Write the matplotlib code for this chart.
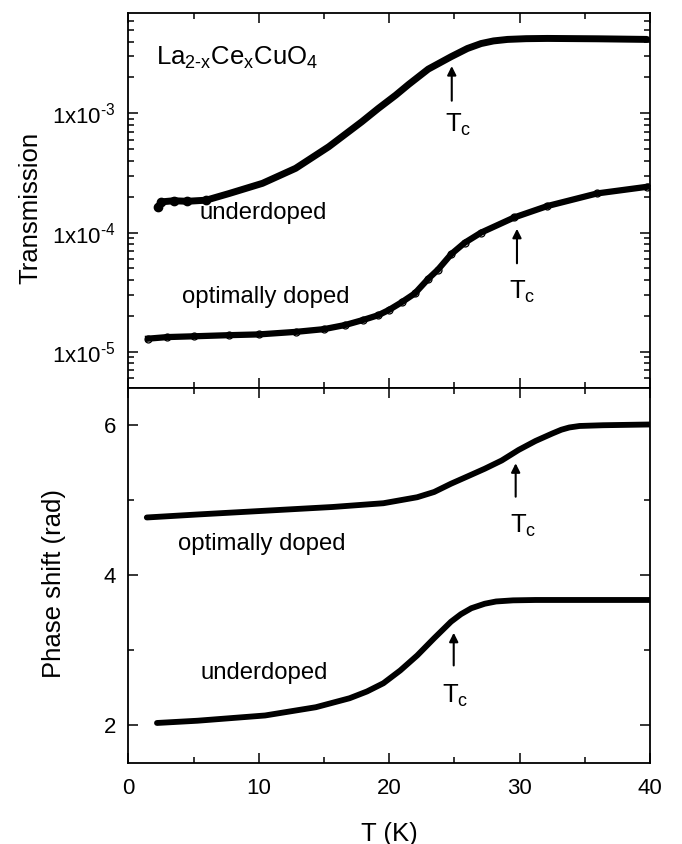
import numpy as np
import matplotlib.pyplot as plt
from matplotlib.ticker import FixedLocator, FixedFormatter, MultipleLocator, LogLocator, NullFormatter

plt.rcParams['font.family'] = ['Liberation Sans', 'DejaVu Sans']
plt.rcParams['mathtext.fontset'] = 'custom'
plt.rcParams['mathtext.rm'] = 'Liberation Sans'
plt.rcParams['mathtext.it'] = 'Liberation Sans:italic'
plt.rcParams['mathtext.default'] = 'regular'

# Transmision - muestra subdopada
T_tr_under = [2.29, 2.54, 3.5, 4.5, 5.97, 7.75, 10.29, 12.83, 15.37, 17.9, 19.17,
              20.5, 21.5, 23.0, 24.76, 26.0, 27.05, 28.0, 29.08, 30.5, 32.13, 36.0, 39.75]
tr_under = [1.64e-4, 1.81e-4, 1.85e-4, 1.83e-4, 1.87e-4, 2.13e-4, 2.59e-4, 3.46e-4,
            5.25e-4, 8.5e-4, 1.1e-3, 1.42e-3, 1.75e-3, 2.35e-3, 2.99e-3, 3.5e-3,
            3.85e-3, 4.05e-3, 4.17e-3, 4.23e-3, 4.25e-3, 4.22e-3, 4.17e-3]

# Transmision - dopaje optimo
T_tr_opt = [1.52, 3.0, 5.0, 7.75, 10.0, 12.83, 15.0, 16.64, 18.0, 19.17, 20.0, 20.95,
            21.97, 23.0, 23.75, 24.76, 25.78, 27.05, 29.59, 32.13, 35.94, 39.75]
tr_opt = [1.29e-5, 1.33e-5, 1.35e-5, 1.38e-5, 1.40e-5, 1.47e-5, 1.55e-5, 1.68e-5,
          1.85e-5, 2.03e-5, 2.25e-5, 2.6e-5, 3.09e-5, 4.1e-5, 4.9e-5, 6.6e-5,
          8.2e-5, 1.0e-4, 1.34e-4, 1.67e-4, 2.13e-4, 2.42e-4]

# Corrimiento de fase
T_ph_opt = [1.42, 5.31, 10.49, 15.67, 19.56, 22.15, 23.45, 24.74, 26.04, 27.33,
            28.63, 29.92, 31.22, 32.51, 33.2, 33.81, 34.6, 36.4, 40.0]
ph_opt = [4.77, 4.81, 4.86, 4.91, 4.96, 5.04, 5.11, 5.22, 5.32, 5.42,
          5.53, 5.67, 5.79, 5.89, 5.94, 5.97, 5.99, 6.00, 6.01]

T_ph_under = [2.2, 5.31, 10.49, 14.38, 16.97, 18.3, 19.56, 20.85, 22.15, 23.45, 24.74,
              25.5, 26.3, 27.33, 28.2, 29.5, 31.22, 40.0]
ph_under = [2.03, 2.06, 2.13, 2.24, 2.36, 2.45, 2.56, 2.73, 2.93, 3.16, 3.38,
            3.48, 3.56, 3.62, 3.65, 3.665, 3.67, 3.67]

log_ticks = [1e-5, 1e-4, 1e-3]
log_labels = ['1x10$^{\\text{-5}}$', '1x10$^{\\text{-4}}$', '1x10$^{\\text{-3}}$']

fig = plt.figure(figsize=(6.82, 8.44), dpi=100)
ax1 = fig.add_axes([0.1881, 0.5406, 0.7650, 0.4436])
ax2 = fig.add_axes([0.1881, 0.0963, 0.7650, 0.4443], sharex=ax1)

# panel superior
ax1.plot(T_tr_under, tr_under, color='k', lw=5, solid_capstyle='round',
         solid_joinstyle='round')
ax1.plot(T_tr_under[:5], tr_under[:5], 'o', color='k', ms=6)
ax1.plot(T_tr_opt, tr_opt, color='k', lw=4.5, marker='o', ms=5, mfc='none',
         mec='k', mew=0.9, solid_joinstyle='round')
ax1.set_yscale('log')
ax1.set_ylim(5e-6, 6.9e-3)
ax1.yaxis.set_major_locator(FixedLocator(log_ticks))
ax1.yaxis.set_major_formatter(FixedFormatter(log_labels))
ax1.yaxis.set_minor_locator(LogLocator(base=10, subs=range(2, 10)))
ax1.yaxis.set_minor_formatter(NullFormatter())
ax1.set_ylabel('Transmission', fontsize=18.5, va='center')
ax1.yaxis.set_label_coords(-0.188, 0.479)
plt.setp(ax1.get_xticklabels(), visible=False)

ax1.text(2.09, 2.54e-3, 'La$_{\\text{2-x}}$Ce$_{x}$CuO$_{4}$', fontsize=18.5, va='baseline')
ax1.text(5.48, 1.29e-4, 'underdoped', fontsize=17.2, va='baseline')
ax1.text(4.15, 2.59e-5, 'optimally doped', fontsize=17.2, va='baseline')

ax1.annotate('', xy=(24.8, 2.63e-3), xytext=(24.8, 1.21e-3),
             arrowprops=dict(arrowstyle='-|>', color='k', lw=1.5, mutation_scale=13))
ax1.text(24.3, 7.0e-4, 'T$_c$', fontsize=18.5, va='baseline')
ax1.annotate('', xy=(29.8, 1.136e-4), xytext=(29.8, 5.24e-5),
             arrowprops=dict(arrowstyle='-|>', color='k', lw=1.5, mutation_scale=13))
ax1.text(29.2, 2.76e-5, 'T$_c$', fontsize=18.5, va='baseline')

# panel inferior
ax2.plot(T_ph_opt, ph_opt, color='k', lw=4.2, solid_capstyle='round',
         solid_joinstyle='round')
ax2.plot(T_ph_under, ph_under, color='k', lw=4.2, solid_capstyle='round',
         solid_joinstyle='round')
ax2.set_xlim(0, 40)
ax2.set_ylim(1.5, 6.5)
ax2.xaxis.set_major_locator(MultipleLocator(10))
ax2.xaxis.set_minor_locator(MultipleLocator(5))
ax2.yaxis.set_major_locator(MultipleLocator(2))
ax2.yaxis.set_minor_locator(MultipleLocator(1))
ax2.set_ylabel('Phase shift (rad)', fontsize=18.5, va='center')
ax2.yaxis.set_label_coords(-0.143, 0.477)
ax2.set_xlabel('T (K)', fontsize=18.5, va='top')
ax2.xaxis.set_label_coords(0.5, -0.157)

ax2.text(3.83, 4.34, 'optimally doped', fontsize=17.2, va='baseline')
ax2.text(5.57, 2.62, 'underdoped', fontsize=17.2, va='baseline')
ax2.annotate('', xy=(29.7, 5.53), xytext=(29.7, 5.01),
             arrowprops=dict(arrowstyle='-|>', color='k', lw=1.5, mutation_scale=13))
ax2.text(29.27, 4.56, 'T$_c$', fontsize=18.5, va='baseline')
ax2.annotate('', xy=(24.95, 3.27), xytext=(24.95, 2.76),
             arrowprops=dict(arrowstyle='-|>', color='k', lw=1.5, mutation_scale=13))
ax2.text(24.09, 2.30, 'T$_c$', fontsize=18.5, va='baseline')

for ax in (ax1, ax2):
    for sp in ax.spines.values():
        sp.set_linewidth(1.3)
    ax.tick_params(which='both', direction='in', top=True, right=True, width=1.1)
    ax.tick_params(which='major', length=7.5, labelsize=16, pad=9)
    ax.tick_params(which='minor', length=4)
    ax.tick_params(axis='x', pad=11)

plt.savefig('out.png', dpi=100)
